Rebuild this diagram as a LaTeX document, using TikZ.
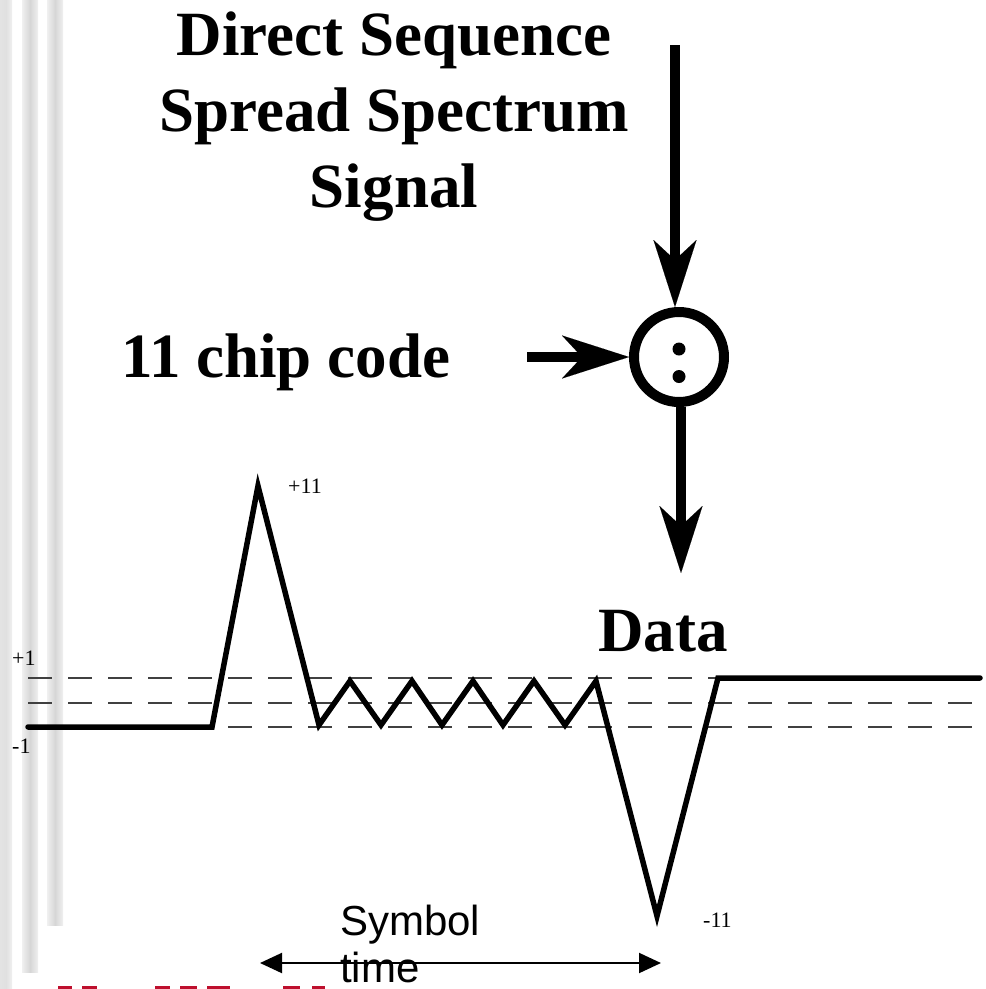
\documentclass[tikz,border=0pt]{standalone}
\usepackage{fontspec}
\setmainfont{Liberation Serif}
\newfontfamily\sansfont{Liberation Sans}
\usetikzlibrary{arrows.meta}
\definecolor{slidered}{RGB}{190,15,45}
\begin{document}
\begin{tikzpicture}[x=1pt,y=-1pt,
  bigtext/.style={font=\fontsize{63}{76}\selectfont\bfseries, inner sep=0pt, anchor=base},
  bigleft/.style={font=\fontsize{63}{76}\selectfont\bfseries, inner sep=0pt, anchor=base west},
  smalllabel/.style={font=\fontsize{22}{26}\selectfont, inner sep=0pt, anchor=base west},
  sanslabel/.style={font=\sansfont\fontsize{42}{48}\selectfont, inner sep=0pt, anchor=base west},
  bigarrow/.style={line width=10pt, -{Stealth[length=67pt,width=43pt,inset=20pt,line width=0.01pt]}},
  wave/.style={line width=5.5pt, line join=miter, line cap=round},
  level/.style={line width=1.2pt, black!75, dash pattern=on 24pt off 16pt},
  mixer/.style={circle, draw, line width=10pt, minimum size=90pt, inner sep=0pt},
  span/.style={line width=2pt, {Triangle[length=22pt,width=20pt]}-{Triangle[length=22pt,width=20pt]}},
  bar/.style={left color=gray!12, right color=gray!12, middle color=gray!32},
]
\useasboundingbox (0,0) rectangle (986,989);
% slide decoration bars
\shade[left color=gray!22, right color=gray!12, middle color=gray!24] (0,0) rectangle (12,989);
\shade[bar] (22,0) rectangle (38,972);
\shade[bar] (47,0) rectangle (63,925);
% clipped red text fragments at the bottom edge
\foreach \a/\b in {58/72,82/97,155/170,180/197,207/230,283/300,312/325}
  \fill[slidered] (\a,985.5) rectangle (\b,989);

% title
\node[bigtext] (t1) at (394,55) {Direct Sequence};
\node[bigtext] (t2) at (394,131) {Spread Spectrum};
\node[bigtext] (t3) at (394,207) {Signal};
\node[bigleft] (chip) at (121,377) {11 chip code};
\node[bigleft] (data) at (598,651) {Data};

% mixer
\node[mixer] (mix) at (679,357) {};
\fill (679,349) circle (6.5);
\fill (679,376.5) circle (6.5);

\coordinate (topstart) at (675,45);
\coordinate (chipend) at (527,357);
\coordinate (dataend) at (681,573);
\draw[bigarrow] (topstart) -- (topstart |- mix.north);
\draw[bigarrow] (chipend) -- (mix.west);
\draw[bigarrow] (mix.south -| dataend) -- (dataend);

% reference levels
\draw[level] (28,678) -- (980,678);
\draw[level] (28,703) -- (980,703);
\draw[level] (28,727) -- (972,727);

% correlator output
\draw[wave] (28,727) -- (212,727) -- (258,486) -- (319,725) -- (350,681) -- (381,725)
  -- (412,681) -- (442,725) -- (473,681) -- (503,725) -- (534,681) -- (565,725)
  -- (596,681) -- (657,916) -- (718,678) -- (980,678);

\node[smalllabel] (p11) at (288,493) {+11};
\node[smalllabel] (p1) at (12,665) {+1};
\node[smalllabel] (m1) at (12,753) {-1};
\node[smalllabel] (m11) at (703,927) {-11};

% symbol time
\coordinate (symL) at (260,963);
\coordinate (symR) at (661,963);
\draw[span] (symL) -- (symR);
\node[sanslabel] (sym1) at (340,935) {Symbol};
\node[sanslabel] (sym2) at (340,982) {time};
\end{tikzpicture}
\end{document}
